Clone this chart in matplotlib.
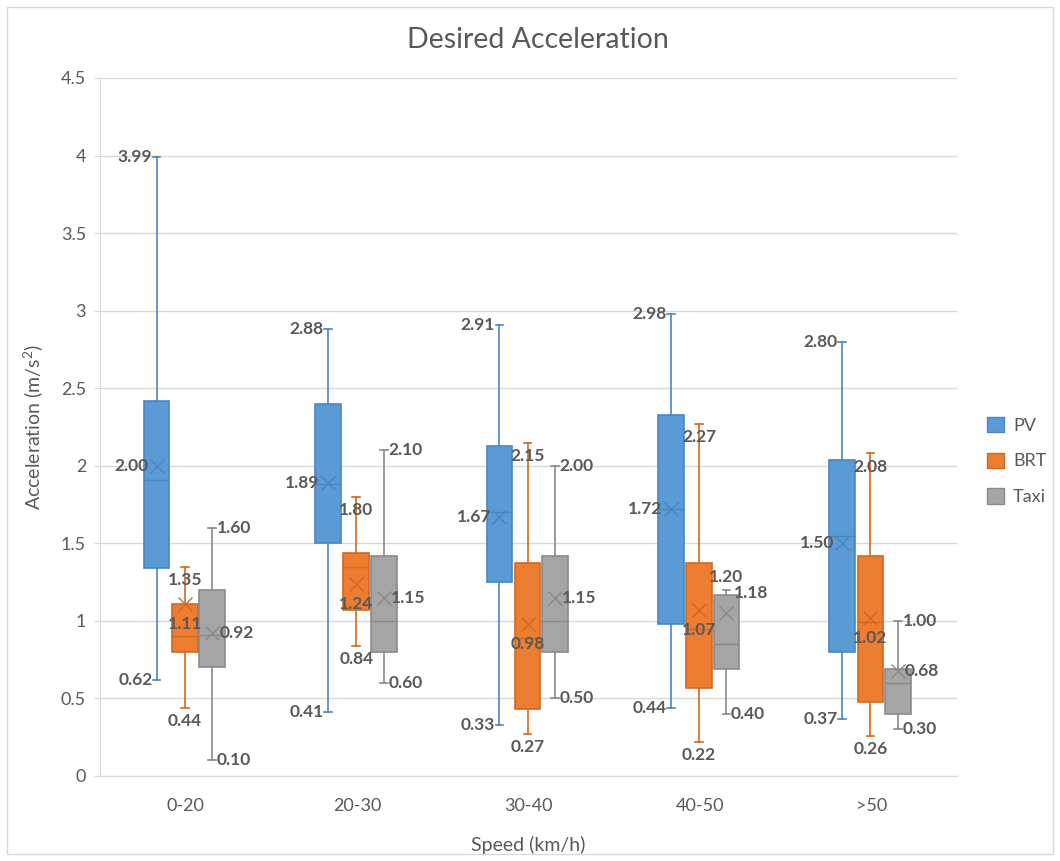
"""
Desired acceleration by speed band - box plots for PV / BRT / Taxi
"""

import numpy as np
import matplotlib as mpl
mpl.use("Agg")
import matplotlib.pyplot as plt
from matplotlib.patches import Patch, Rectangle

plt.rcParams["font.family"] = ["Lato", "DejaVu Sans"]
plt.rcParams["mathtext.default"] = "regular"

speeds = ["0-20", "20-30", "30-40", "40-50", ">50"]
modes = ["PV", "BRT", "Taxi"]

pv_min = [0.62, 0.41, 0.33, 0.44, 0.37]
pv_q1 = [1.34, 1.50, 1.25, 0.98, 0.80]
pv_med = [1.91, 1.88, 1.70, 1.72, 1.55]
pv_q3 = [2.42, 2.40, 2.13, 2.33, 2.04]
pv_max = [3.99, 2.88, 2.91, 2.98, 2.80]
pv_mean = [2.00, 1.89, 1.67, 1.72, 1.50]

brt_min = [0.44, 0.84, 0.27, 0.22, 0.26]
brt_q1 = [0.80, 1.07, 0.43, 0.57, 0.48]
brt_med = [0.90, 1.35, 0.89, 0.95, 0.99]
brt_q3 = [1.11, 1.44, 1.37, 1.37, 1.42]
brt_max = [1.35, 1.80, 2.15, 2.27, 2.08]
brt_mean = [1.11, 1.24, 0.98, 1.07, 1.02]

taxi_min = [0.10, 0.60, 0.50, 0.40, 0.30]
taxi_q1 = [0.70, 0.80, 0.80, 0.69, 0.40]
taxi_med = [0.91, 1.00, 1.00, 0.85, 0.60]
taxi_q3 = [1.20, 1.42, 1.42, 1.17, 0.69]
taxi_max = [1.60, 2.10, 2.00, 1.20, 1.00]
taxi_mean = [0.92, 1.15, 1.15, 1.05, 0.68]

# middle data label as printed on the chart (mean, except one box)
pv_mid_label = pv_mean
brt_mid_label = brt_mean
taxi_mid_label = [0.92, 1.15, 1.15, 1.18, 0.68]

series = {
    "PV": (pv_min, pv_q1, pv_med, pv_q3, pv_max, pv_mean, pv_mid_label),
    "BRT": (brt_min, brt_q1, brt_med, brt_q3, brt_max, brt_mean, brt_mid_label),
    "Taxi": (taxi_min, taxi_q1, taxi_med, taxi_q3, taxi_max, taxi_mean, taxi_mid_label),
}

fills = {"PV": "#5B9BD5", "BRT": "#ED7D31", "Taxi": "#A5A5A5"}
edges = {"PV": "#4A86C2", "BRT": "#D2691F", "Taxi": "#8A8A8A"}
offsets = {"PV": -0.17, "BRT": -0.005, "Taxi": 0.155}
txt = "#595959"
grid = "#D9D9D9"

fig = plt.figure(figsize=(10.6, 8.61), dpi=100)
ax = fig.add_axes([100/1060, 1-776/861, 857/1060, 698/861])
fig.add_artist(Rectangle((7/1060, 7/861), 1-14/1060, 1-14/861, transform=fig.transFigure,
                         fill=False, edgecolor=grid, lw=1))

x = np.arange(len(speeds))
for mode in modes:
    lo, q1, med, q3, hi, mean, mid = series[mode]
    stats = [dict(whislo=lo[i], q1=q1[i], med=med[i], q3=q3[i], whishi=hi[i], mean=mean[i])
             for i in range(len(speeds))]
    ec = edges[mode]
    ax.bxp(stats, positions=x + offsets[mode], widths=0.15, capwidths=0.045,
           patch_artist=True, showmeans=True, showfliers=False, manage_ticks=False,
           boxprops=dict(facecolor=fills[mode], edgecolor=ec, lw=1.2),
           whiskerprops=dict(color=ec, lw=1.2), capprops=dict(color=ec, lw=1.2),
           medianprops=dict(color=ec, lw=1.0),
           meanprops=dict(marker="x", markersize=10, markeredgecolor=ec, markeredgewidth=1.0))

    for i in range(len(speeds)):
        xp = x[i] + offsets[mode]
        kw = dict(textcoords="offset points", fontsize=12.5, fontweight="bold", color=txt)
        if mode == "PV":
            ax.annotate(f"{hi[i]:.2f}", (xp, hi[i]), xytext=(-3, 0), ha="right", va="center", **kw)
            ax.annotate(f"{mid[i]:.2f}", (xp, mid[i]), xytext=(-6, 0), ha="right", va="center", **kw)
            ax.annotate(f"{lo[i]:.2f}", (xp, lo[i]), xytext=(-3, 0), ha="right", va="center", **kw)
        elif mode == "BRT":
            ax.annotate(f"{hi[i]:.2f}", (xp, hi[i]), xytext=(0, -9.5), ha="center", va="center", **kw)
            ax.annotate(f"{mid[i]:.2f}", (xp, mean[i]), xytext=(0, -14.5), ha="center", va="center", **kw)
            ax.annotate(f"{lo[i]:.2f}", (xp, lo[i]), xytext=(0, -9.5), ha="center", va="center", **kw)
        else:
            if speeds[i] == "40-50":
                ax.annotate(f"{hi[i]:.2f}", (xp, hi[i]), xytext=(0, 9), ha="center", va="center", **kw)
            else:
                ax.annotate(f"{hi[i]:.2f}", (xp, hi[i]), xytext=(3.3, 0), ha="left", va="center", **kw)
            ax.annotate(f"{mid[i]:.2f}", (xp, mid[i]), xytext=(5, 0), ha="left", va="center", **kw)
            ax.annotate(f"{lo[i]:.2f}", (xp, lo[i]), xytext=(3.3, 0), ha="left", va="center", **kw)

ax.set_xlim(-0.5, len(speeds) - 0.5)
ax.set_ylim(0, 4.5)
ax.set_yticks(np.arange(0, 4.51, 0.5))
ax.set_yticklabels(["0", "0.5", "1", "1.5", "2", "2.5", "3", "3.5", "4", "4.5"])
ax.set_xticks(x)
ax.set_xticklabels(speeds)
ax.grid(axis="y", color=grid, lw=1)
ax.set_axisbelow(True)
for s in ["top", "right"]:
    ax.spines[s].set_visible(False)
ax.spines["left"].set_color(grid)
ax.spines["bottom"].set_color(grid)
ax.tick_params(axis="y", length=4, color=grid, pad=6, labelsize=13, labelcolor=txt)
ax.tick_params(axis="x", length=0, pad=16, labelsize=13, labelcolor=txt)

ax.set_xlabel("Speed (km/h)", fontsize=14, color=txt, va="center")
ax.xaxis.set_label_coords(0.5, -(845-776)/698)
ax.set_ylabel("Acceleration (m/s$^2$)", fontsize=14, color=txt, va="center")
ax.yaxis.set_label_coords(-(100-33)/857, 0.5)

fig.text(538/1060, 1-40/861, "Desired Acceleration", fontsize=20.5, color=txt, ha="center", va="center")

handles = [Patch(facecolor=fills[m], edgecolor=edges[m], label=m) for m in modes]
fig.legend(handles=handles, loc="center left", bbox_to_anchor=(987/1060, 1-461/861),
           frameon=False, borderpad=0, borderaxespad=0, fontsize=13, labelcolor=txt,
           handlelength=0.95, handleheight=0.95, handletextpad=0.5, labelspacing=1.05)

fig.savefig("out.png", dpi=100)
